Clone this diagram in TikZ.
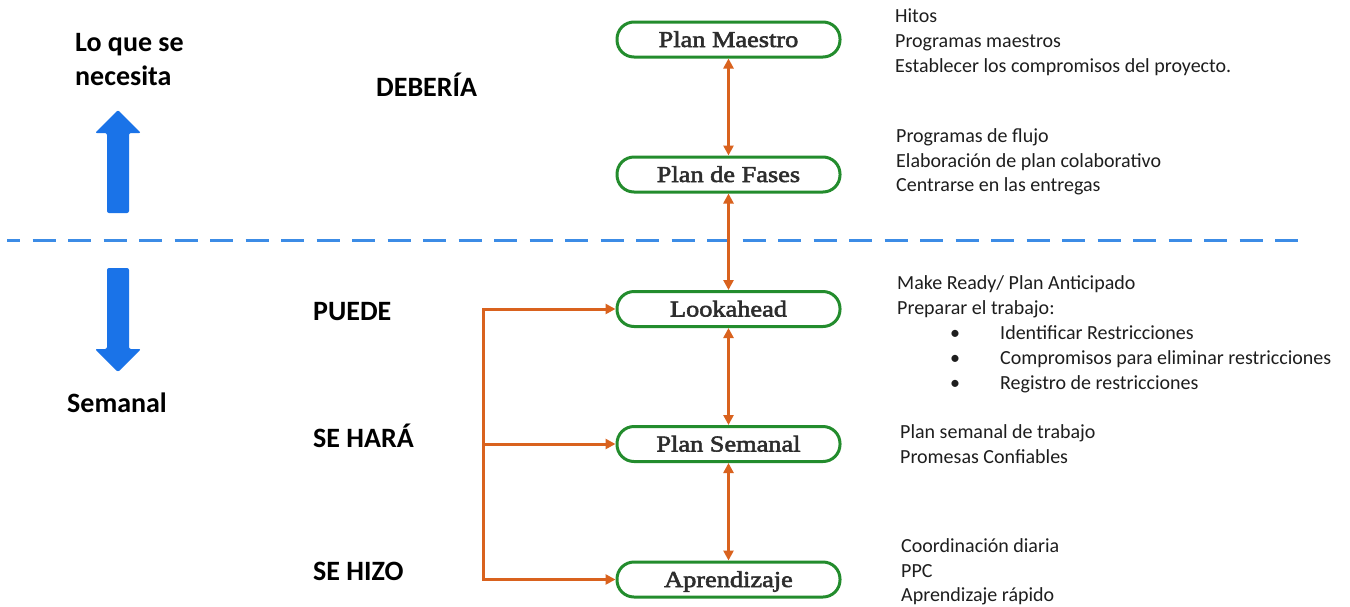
\documentclass[tikz,border=0pt]{standalone}
\usepackage{fontspec}
\setmainfont{Carlito}
\newfontfamily\planfont[FakeStretch=1.16,FakeBold=2.5]{Liberation Serif}
\usetikzlibrary{arrows.meta}

\definecolor{planGreen}{RGB}{35,140,45}
\definecolor{linkOrange}{RGB}{217,98,30}
\definecolor{dirBlue}{RGB}{26,115,232}
\definecolor{dashBlue}{RGB}{60,140,230}
\definecolor{noteText}{RGB}{30,30,30}
\definecolor{planText}{RGB}{45,45,45}

\begin{document}
\begin{tikzpicture}[x=1pt,y=-1pt,
  plan/.style={draw=planGreen, line width=3pt, rounded corners=17pt,
    minimum width=223pt, minimum height=35pt, inner sep=0pt,
    text height=15pt, text depth=0pt, text=planText,
    font=\planfont\fontsize{22.7}{26}\selectfont},
  link/.style={draw=linkOrange, line width=3pt, {Triangle[length=10pt,width=10pt]}-{Triangle[length=10pt,width=10pt]}},
  feed/.style={draw=linkOrange, line width=3pt, line cap=rect, -{Triangle[length=10pt,width=10pt]}},
  note/.style={anchor=base west, inner sep=0pt, text=noteText,
    font=\fontsize{20}{24}\selectfont},
  level/.style={anchor=base west, inner sep=0pt, text=black,
    font=\bfseries\fontsize{28}{34}\selectfont},
  dir/.style={fill=dirBlue, rounded corners=2pt}]

\useasboundingbox[fill=white] (0,0) rectangle (1350,606);

% divider between planning horizons
\coordinate (divL) at (7,240.5);
\coordinate (divR) at (1303,240.5);
\draw[dashBlue, line width=3.5pt, dash pattern=on 23pt off 12.5pt, dash phase=10pt] (divL) -- (divR);

% direction arrows
\fill[dir] (118,110) -- (141,133) -- (129,133) -- (129,213) -- (107,213)
  -- (107,133) -- (95,133) -- cycle;
\fill[dir] (118,372) -- (141,349) -- (129,349) -- (129,268) -- (107,268)
  -- (107,349) -- (95,349) -- cycle;

\node[level] (lq1) at (75,51) {Lo que se};
\node[level] (lq2) at (75,85) {necesita};
\node[level] (sem) at (67,412) {Semanal};

% level labels
\node[level] (deb) at (376,96) {DEBERÍA};
\node[level] (pue) at (313,320) {PUEDE};
\node[level] (har) at (313,447) {SE HARÁ};
\node[level] (hiz) at (313,580) {SE HIZO};

% planning levels
\node[plan] (mae) at (728.5,39.5) {Plan Maestro};
\node[plan] (fas) at (728.5,174.5) {Plan de Fases};
\node[plan] (loo) at (728.5,309) {Lookahead};
\node[plan] (psm) at (728.5,444) {Plan Semanal};
\node[plan] (apr) at (728.5,579.5) {Aprendizaje};

\draw[link] (mae) -- (fas);
\draw[link] (fas) -- (loo);
\draw[link] (loo) -- (psm);
\draw[link] (psm) -- (apr);

% feedback bracket
\coordinate (bk) at (483,0);
\draw[feed] (bk |- loo.west) -- (bk |- apr.west) -- (apr.west);
\draw[feed] (bk |- loo.west) -- (loo.west);
\draw[feed] (bk |- psm.west) -- (psm.west);

% notes
\node[note] (h1) at (895,22) {Hitos};
\node[note] (h2) at (895,47) {Programas maestros};
\node[note] (h3) at (895,72) {Establecer los compromisos del proyecto.};

\node[note] (f1) at (896,142) {Programas de flujo};
\node[note] (f2) at (896,167) {Elaboración de plan colaborativo};
\node[note] (f3) at (896,191) {Centrarse en las entregas};

\node[note] (l1) at (897,289) {Make Ready/ Plan Anticipado};
\node[note] (l2) at (897,314) {Preparar el trabajo:};
\node[note] (b1) at (950,339) {•};
\node[note] (b2) at (950,364) {•};
\node[note] (b3) at (950,389) {•};
\node[note] (l3) at (1000,339) {Identificar Restricciones};
\node[note] (l4) at (1000,364) {Compromisos para eliminar restricciones};
\node[note] (l5) at (1000,389) {Registro de restricciones};

\node[note] (s1) at (900,438) {Plan semanal de trabajo};
\node[note] (s2) at (900,463) {Promesas Confiables};

\node[note] (a1) at (901,552) {Coordinación diaria};
\node[note] (a2) at (901,577) {PPC};
\node[note] (a3) at (901,601) {Aprendizaje rápido};
\end{tikzpicture}
\end{document}
